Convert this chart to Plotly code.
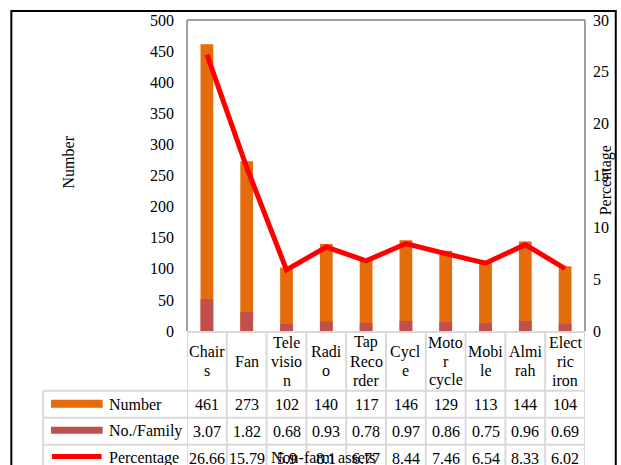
import plotly.graph_objects as go

# Non-farm assets owned by households
categories = ["Chairs", "Fan", "Television", "Radio", "Tap Recorder",
              "Cycle", "Motor cycle", "Mobile", "Almirah", "Electric iron"]
category_lines = [["Chair", "s"], ["Fan"], ["Tele", "visio", "n"], ["Radi", "o"],
                  ["Tap", "Reco", "rder"], ["Cycl", "e"], ["Moto", "r", "cycle"],
                  ["Mobi", "le"], ["Almi", "rah"], ["Elect", "ric", "iron"]]
number = [461, 273, 102, 140, 117, 146, 129, 113, 144, 104]
per_family = [3.07, 1.82, 0.68, 0.93, 0.78, 0.97, 0.86, 0.75, 0.96, 0.69]
percentage = [26.66, 15.79, 5.9, 8.1, 6.77, 8.44, 7.46, 6.54, 8.33, 6.02]
left_ticks = [0, 50, 100, 150, 200, 250, 300, 350, 400, 450, 500]
right_ticks = [0, 5, 10, 15, 20, 25, 30]

W, H = 621, 465
ML, MR, MT, MB = 187, 33, 19, 134
PW, PH = W - ML - MR, H - MT - MB

FONT = "Liberation Serif"
ORANGE = "#E46C0A"
BRICK = "#C0504D"
RED = "#FF0000"
GRID = "#D9D9D9"


def px(p):
    return (p - ML) / PW


def py(p):
    return (H - MB - p) / PH


def general(v):
    s = f"{v:.2f}".rstrip("0").rstrip(".")
    return s


idx = list(range(len(categories)))

fig = go.Figure()
fig.add_trace(go.Bar(x=idx, y=number, width=0.32, marker=dict(color=ORANGE, line=dict(width=0)),
                     name="Number", yaxis="y"))
fig.add_trace(go.Bar(x=idx, y=per_family, width=0.32, marker=dict(color=BRICK, line=dict(width=0)),
                     name="No./Family", yaxis="y2"))
fig.add_trace(go.Scatter(x=idx, y=percentage, mode="lines", line=dict(color=RED, width=5),
                         name="Percentage", yaxis="y2"))

shapes = []
annotations = []

# outer chart frame
shapes.append(dict(type="rect", xref="paper", yref="paper", x0=px(10), x1=px(619),
                   y0=py(480), y1=py(10), line=dict(color="black", width=2), layer="below"))
# plot area frame (left, top, right)
for x0, y0, x1, y1 in [(0, 0, 0, 1), (0, 1, 1, 1), (1, 0, 1, 1)]:
    shapes.append(dict(type="line", xref="paper", yref="paper", x0=x0, x1=x1, y0=y0, y1=y1,
                       line=dict(color="#808080", width=1.5)))

# data table grid
shapes.append(dict(type="line", xref="x", yref="paper", x0=-0.5, x1=len(idx) - 0.5,
                   y0=py(332), y1=py(332), line=dict(color=GRID, width=2)))
for yy in [391, 418, 445]:
    shapes.append(dict(type="line", xref="paper", yref="paper", x0=px(42), x1=1,
                       y0=py(yy), y1=py(yy), line=dict(color=GRID, width=2)))
for k in range(len(idx) + 1):
    shapes.append(dict(type="line", xref="x", yref="paper", x0=k - 0.5, x1=k - 0.5,
                       y0=py(332), y1=py(480), line=dict(color=GRID, width=2)))
shapes.append(dict(type="line", xref="paper", yref="paper", x0=px(42), x1=px(42),
                   y0=py(391), y1=py(480), line=dict(color=GRID, width=2)))

# category header cells
for i, lines in zip(idx, category_lines):
    n = len(lines)
    for j, t in enumerate(lines):
        yc = 361.5 + (j - (n - 1) / 2) * 19
        annotations.append(dict(x=i, y=py(yc), xref="x", yref="paper", text=t, showarrow=False,
                                xanchor="center", yanchor="middle",
                                font=dict(family=FONT, size=16, color="black")))

# table rows
rows = [("Number", number, 404.5, lambda v: str(v)),
        ("No./Family", per_family, 431.5, general),
        ("Percentage", percentage, 458.5, general)]
for label, vals, yc, fmt in rows:
    for i, v in zip(idx, vals):
        annotations.append(dict(x=i, y=py(yc), xref="x", yref="paper", text=fmt(v), showarrow=False,
                                xanchor="center", yanchor="middle",
                                font=dict(family=FONT, size=16, color="black")))
    annotations.append(dict(x=px(106), y=py(yc), xref="paper", yref="paper", text=label,
                            showarrow=False, xanchor="left", yanchor="middle",
                            font=dict(family=FONT, size=16, color="black")))

# legend keys inside the table
shapes.append(dict(type="rect", xref="paper", yref="paper", x0=px(50), x1=px(102),
                   y0=py(408), y1=py(400), fillcolor=ORANGE, line=dict(width=0)))
shapes.append(dict(type="rect", xref="paper", yref="paper", x0=px(50), x1=px(102),
                   y0=py(434), y1=py(427), fillcolor=BRICK, line=dict(width=0)))
shapes.append(dict(type="line", xref="paper", yref="paper", x0=px(51), x1=px(101),
                   y0=py(457), y1=py(457), line=dict(color=RED, width=5)))

# axis titles
annotations.append(dict(x=px(68), y=py(161), xref="paper", yref="paper", text="Number",
                        textangle=-90, showarrow=False, xanchor="center", yanchor="middle",
                        font=dict(family=FONT, size=16, color="black")))
annotations.append(dict(x=px(610), y=py(180), xref="paper", yref="paper", text="Percentage",
                        textangle=-90, showarrow=False, xanchor="center", yanchor="middle",
                        font=dict(family=FONT, size=16, color="black")))
annotations.append(dict(x=px(324), y=py(458), xref="paper", yref="paper", text="Non-farm assets",
                        showarrow=False, xanchor="center", yanchor="middle",
                        font=dict(family=FONT, size=16, color="black")))

fig.update_layout(
    width=W, height=H,
    margin=dict(l=ML, r=MR, t=MT, b=MB, pad=0),
    paper_bgcolor="white", plot_bgcolor="white",
    barmode="overlay", showlegend=False,
    font=dict(family=FONT, size=16, color="black"),
    xaxis=dict(range=[-0.5, len(idx) - 0.5], showticklabels=False, showgrid=False,
               zeroline=False, showline=False, ticks=""),
    yaxis=dict(range=[0, 500], tickvals=left_ticks, showgrid=False, zeroline=False,
               showline=False, ticks="", ticklabelstandoff=12,
               tickfont=dict(family=FONT, size=16, color="black")),
    yaxis2=dict(range=[0, 30], tickvals=right_ticks, overlaying="y", side="right",
                showgrid=False, zeroline=False, showline=False, ticks="", ticklabelstandoff=7,
                tickfont=dict(family=FONT, size=16, color="black")),
    shapes=shapes, annotations=annotations,
)

fig.write_html("out.html")
